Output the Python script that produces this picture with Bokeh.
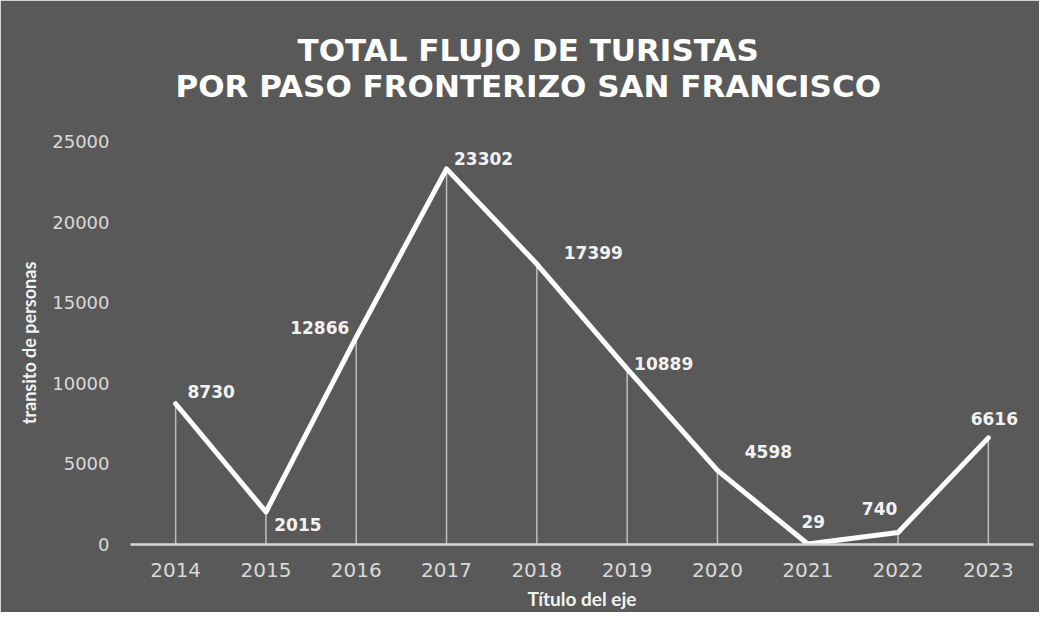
from bokeh.plotting import figure
from bokeh.models import ColumnDataSource, FixedTicker, Title, Range1d
from bokeh.core.properties import value
from bokeh.embed import file_html
from bokeh.resources import INLINE

# ---- data ----
years = ["2014", "2015", "2016", "2017", "2018", "2019", "2020", "2021", "2022", "2023"]
tourists = [8730, 2015, 12866, 23302, 17399, 10889, 4598, 29, 740, 6616]
label_texts = [str(v) for v in tourists]
y_ticks = [0, 5000, 10000, 15000, 20000, 25000]
title_line1 = "TOTAL FLUJO DE TURISTAS"
title_line2 = "POR PASO FRONTERIZO SAN FRANCISCO"
x_title = "Título del eje"
y_title = "transito de personas"

# ---- label placement (styling, pixels) ----
lab_dx = [35.5, 32, -36.5, 37, 56.5, 36.5, 51, 5.5, -18.5, 6]
lab_dy = [-12, 12, -10, -10, -12, -5, -18.5, -22.5, -24.5, -19]

BG = "#595959"
W, H = 1039, 612
FL, FR, FT, FB = 130, 1033, 141, 546  # frame edges in canvas pixels

src = ColumnDataSource(dict(x=years, y=tourists, zero=[0] * len(years),
                            txt=label_texts, dx=lab_dx, dy=lab_dy))

p = figure(x_range=years, y_range=Range1d(0, 25000), width=W, height=H,
           output_backend="svg", toolbar_location=None,
           background_fill_color=BG, border_fill_color=BG,
           min_border_left=FL, min_border_right=W - FR,
           min_border_top=FT, min_border_bottom=H - FB)
p.outline_line_color = BG
p.outline_line_width = 2
p.xgrid.grid_line_color = None
p.ygrid.grid_line_color = None

# drop lines
p.segment(x0="x", y0="zero", x1="x", y1="y", source=src,
          line_color="#e0e0e0", line_width=1.5, line_alpha=0.75)
# main line
p.line(x="x", y="y", source=src, line_color="white", line_width=5,
       line_join="round", line_cap="round")
# data labels
p.text(x="x", y="y", text="txt", source=src, x_offset="dx", y_offset="dy",
       text_align="center", text_baseline="middle",
       text_font=value("DejaVu Sans"), text_font_style="bold",
       text_font_size="17px", text_color="#f2f2f2")

# axes
xa = p.xaxis[0]
xa.axis_line_color = "#d9d9d9"
xa.axis_line_width = 2.5
xa.major_tick_line_color = None
xa.minor_tick_line_color = None
xa.major_tick_out = 0
xa.major_tick_in = 0
xa.major_label_text_font = "DejaVu Sans"
xa.major_label_text_font_size = "20px"
xa.major_label_text_color = "#d9d9d9"
xa.major_label_standoff = 18
xa.axis_label = x_title
xa.axis_label_text_font = "Lato"
xa.axis_label_text_font_style = "bold"
xa.axis_label_text_font_size = "19px"
xa.axis_label_text_color = "#f2f2f2"
xa.axis_label_standoff = 7

ya = p.yaxis[0]
ya.ticker = FixedTicker(ticks=y_ticks)
ya.axis_line_color = None
ya.major_tick_line_color = None
ya.minor_tick_line_color = None
ya.major_tick_out = 0
ya.major_tick_in = 0
ya.major_label_text_font = "DejaVu Sans"
ya.major_label_text_font_size = "18px"
ya.major_label_text_color = "#d9d9d9"
ya.major_label_standoff = 21
ya.axis_label = y_title
ya.axis_label_text_font = "Lato"
ya.axis_label_text_font_style = "bold"
ya.axis_label_text_font_size = "18px"
ya.axis_label_text_color = "#f2f2f2"
ya.axis_label_standoff = 9

# title: two lines (line 2 nearest the plot)
for txt, so, off in [(title_line2, 75, 45), (title_line1, -78, 167)]:
    p.add_layout(Title(text=txt, align="left", offset=off, standoff=so,
                       text_font="DejaVu Sans", text_font_style="bold",
                       text_font_size="31px", text_color="white"), "above")

open("out.html", "w").write(file_html(p, INLINE))
